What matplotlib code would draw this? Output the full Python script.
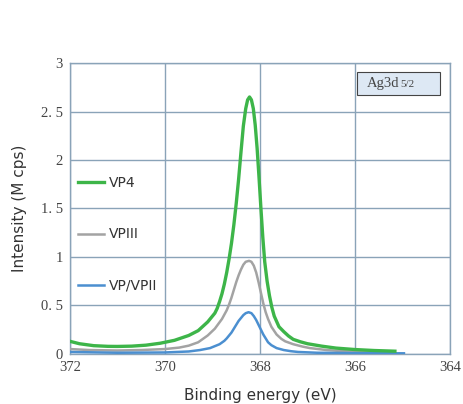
import matplotlib
matplotlib.use("Agg")
import matplotlib.pyplot as plt
import matplotlib.patches as patches

# binding energy (eV) / intensity (M cps)
vp4_x = [372.0, 371.8, 371.5, 371.2, 371.0, 370.7, 370.4, 370.1, 369.8, 369.5,
         369.3, 369.1, 368.95, 368.9, 368.85, 368.8, 368.75, 368.7, 368.65, 368.6,
         368.55, 368.5, 368.45, 368.4, 368.35, 368.3, 368.26, 368.22, 368.18, 368.14,
         368.1, 368.06, 368.02, 367.98, 367.94, 367.9, 367.85, 367.8, 367.75, 367.7,
         367.6, 367.5, 367.4, 367.3, 367.15, 367.0, 366.7, 366.4, 366.0, 365.6,
         365.16]
vp4_y = [0.13, 0.105, 0.085, 0.078, 0.077, 0.08, 0.09, 0.11, 0.14, 0.19,
         0.24, 0.33, 0.42, 0.47, 0.54, 0.62, 0.72, 0.84, 0.98, 1.14,
         1.33, 1.55, 1.8, 2.08, 2.35, 2.53, 2.62, 2.65, 2.62, 2.53,
         2.36, 2.12, 1.82, 1.5, 1.2, 0.95, 0.75, 0.6, 0.48, 0.39,
         0.28, 0.23, 0.185, 0.15, 0.125, 0.105, 0.08, 0.06, 0.045, 0.035,
         0.028]

vp3_x = [372.0, 371.6, 371.0, 370.5, 370.0, 369.7, 369.5, 369.3, 369.1, 368.95,
         368.8, 368.7, 368.65, 368.6, 368.55, 368.5, 368.45, 368.4, 368.35, 368.3,
         368.23, 368.18, 368.13, 368.08, 368.03, 367.98, 367.93, 367.88, 367.83, 367.76,
         367.65, 367.55, 367.47, 367.3, 367.1, 366.95, 366.6, 366.25, 365.8, 365.3]
vp3_y = [0.05, 0.04, 0.035, 0.04, 0.05, 0.065, 0.085, 0.12, 0.19, 0.26,
         0.36, 0.45, 0.51, 0.58, 0.66, 0.74, 0.81, 0.87, 0.92, 0.95,
         0.96, 0.95, 0.91, 0.84, 0.74, 0.63, 0.52, 0.43, 0.36, 0.28,
         0.2, 0.155, 0.13, 0.1, 0.075, 0.06, 0.04, 0.028, 0.02, 0.015]

vp2_x = [372.0, 371.0, 370.0, 369.5, 369.26, 369.05, 368.85, 368.75, 368.7, 368.65,
         368.6, 368.55, 368.5, 368.45, 368.4, 368.35, 368.3, 368.24, 368.18, 368.13,
         368.08, 368.03, 367.98, 367.93, 367.88, 367.83, 367.76, 367.65, 367.5, 367.35,
         367.2, 366.8, 366.0, 364.97]
vp2_y = [0.02, 0.012, 0.015, 0.025, 0.04, 0.06, 0.1, 0.135, 0.16, 0.19,
         0.22, 0.26, 0.3, 0.34, 0.37, 0.4, 0.42, 0.43, 0.42, 0.39,
         0.35, 0.3, 0.25, 0.2, 0.16, 0.12, 0.09, 0.06, 0.04, 0.028,
         0.02, 0.012, 0.008, 0.006]

x_ticks = [372, 370, 368, 366, 364]
y_ticks = [0, 0.5, 1, 1.5, 2, 2.5, 3]
y_tick_labels = ["0", "0. 5", "1", "1. 5", "2", "2. 5", "3"]

grid_col = "#8aa3b8"

fig = plt.figure(figsize=(4.63, 4.04), dpi=100)
ax = fig.add_axes([0.151, 0.124, 0.821, 0.72])

ax.plot(vp4_x, vp4_y, color="#3db549", lw=2.4, label="VP4", zorder=4,
        solid_joinstyle="round")
ax.plot(vp3_x, vp3_y, color="#a3a3a3", lw=1.8, label="VPIII", zorder=3,
        solid_joinstyle="round")
ax.plot(vp2_x, vp2_y, color="#4b8fd0", lw=1.8, label="VP/VPII", zorder=3,
        solid_joinstyle="round")

ax.set_xlim(372, 364)
ax.set_ylim(0, 3)
ax.set_xticks(x_ticks)
ax.set_yticks(y_ticks)
ax.set_yticklabels(y_tick_labels)
ax.grid(True, color=grid_col, lw=1.0)
ax.set_axisbelow(True)
for s in ax.spines.values():
    s.set_color(grid_col)
    s.set_linewidth(1.0)
ax.tick_params(length=0, labelsize=10.5, labelcolor="#444444", pad=5)
for lab in ax.get_xticklabels() + ax.get_yticklabels():
    lab.set_family("Liberation Serif")

ax.set_xlabel("Binding energy (eV)", fontsize=11, color="#333333", labelpad=10)
ax.set_ylabel("Intensity (M cps)", fontsize=11, color="#333333", labelpad=10)

ax.legend(loc="upper left", bbox_to_anchor=(-0.012, 0.655), frameon=False,
          fontsize=10, handlelength=1.9, labelspacing=2.7, handletextpad=0.35,
          labelcolor="#333333")

# peak label box
rect = patches.Rectangle((0.755, 0.89), 0.219, 0.079, transform=ax.transAxes,
                         facecolor="#dde8f4", edgecolor="#444444", lw=0.8, zorder=5)
ax.add_patch(rect)
ax.text(0.782, 0.929, "Ag3d", transform=ax.transAxes, family="Liberation Serif",
        fontsize=10.5, color="#444444", va="center", zorder=6)
ax.text(0.870, 0.926, "5/2", transform=ax.transAxes, family="Liberation Serif",
        fontsize=8, color="#444444", va="center", zorder=6)

fig.savefig("out.png", dpi=100)
